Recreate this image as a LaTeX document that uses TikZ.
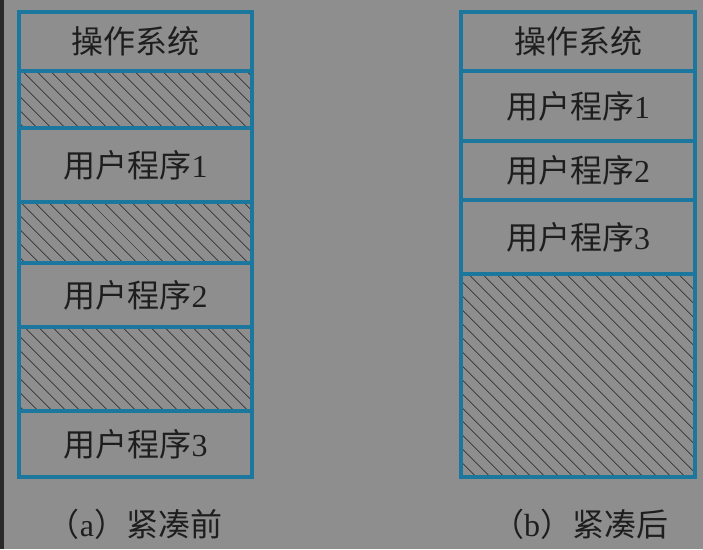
\documentclass[tikz,border=0pt]{standalone}
\usepackage{fontspec}
\setmainfont{Liberation Serif}
\newfontfamily\cjk{Noto Sans CJK SC}
\usetikzlibrary{patterns.meta}
\definecolor{bggray}{HTML}{8E8E8E}
\definecolor{dunkel}{HTML}{2A2A2A}
\definecolor{rand}{HTML}{1C779E}
\definecolor{schrift}{HTML}{1E1E1E}
\tikzset{
	block/.style={draw=rand, line width=3.2pt},
	frei/.style={block, pattern={Lines[angle=-45, distance=10.5pt, line width=0.9pt]}, pattern color=schrift},
	txt/.style={font=\fontsize{32}{32}\selectfont, text=schrift},
}
\begin{document}
\begin{tikzpicture}[x=1pt, y=-1pt]
		% Hintergrund
		\useasboundingbox (0, 0) rectangle (703, 549);
		\fill [bggray] (0, 0) rectangle (703, 549);
		\fill [dunkel] (0, 0) rectangle (4, 549);
		% Linker Speicher (vor dem Kompaktieren)
		\draw [frei] (19, 71) rectangle ++ (233, 57);
		\draw [frei] (19, 202) rectangle ++ (233, 61);
		\draw [frei] (19, 327) rectangle ++ (233, 84);
		\draw [block] (19, 12) rectangle ++ (233, 59) node [midway, txt] (os1) {\cjk 操作系统};
		\draw [block] (19, 128) rectangle ++ (233, 74) node [midway, txt] (pa1) {{\cjk 用户程序}1};
		\draw [block] (19, 263) rectangle ++ (233, 64) node [midway, txt] (pa2) {{\cjk 用户程序}2};
		\draw [block] (19, 411) rectangle ++ (233, 66) node [midway, txt] (pa3) {{\cjk 用户程序}3};
		% Rechter Speicher (nach dem Kompaktieren)
		\draw [frei] (461, 274) rectangle ++ (234, 203);
		\draw [block] (461, 12) rectangle ++ (234, 59) node [midway, txt] (os2) {\cjk 操作系统};
		\draw [block] (461, 71) rectangle ++ (234, 70) node [midway, txt] (pb1) {{\cjk 用户程序}1};
		\draw [block] (461, 141) rectangle ++ (234, 59) node [midway, txt] (pb2) {{\cjk 用户程序}2};
		\draw [block] (461, 200) rectangle ++ (234, 74) node [midway, txt] (pb3) {{\cjk 用户程序}3};
		% Beschriftung unten
		\node [txt] (capa) at (135, 524) {{\cjk （}a{\cjk ）紧凑前}};
		\node [txt] (capb) at (580, 524) {{\cjk （}b{\cjk ）紧凑后}};
	\end{tikzpicture}
\end{document}
